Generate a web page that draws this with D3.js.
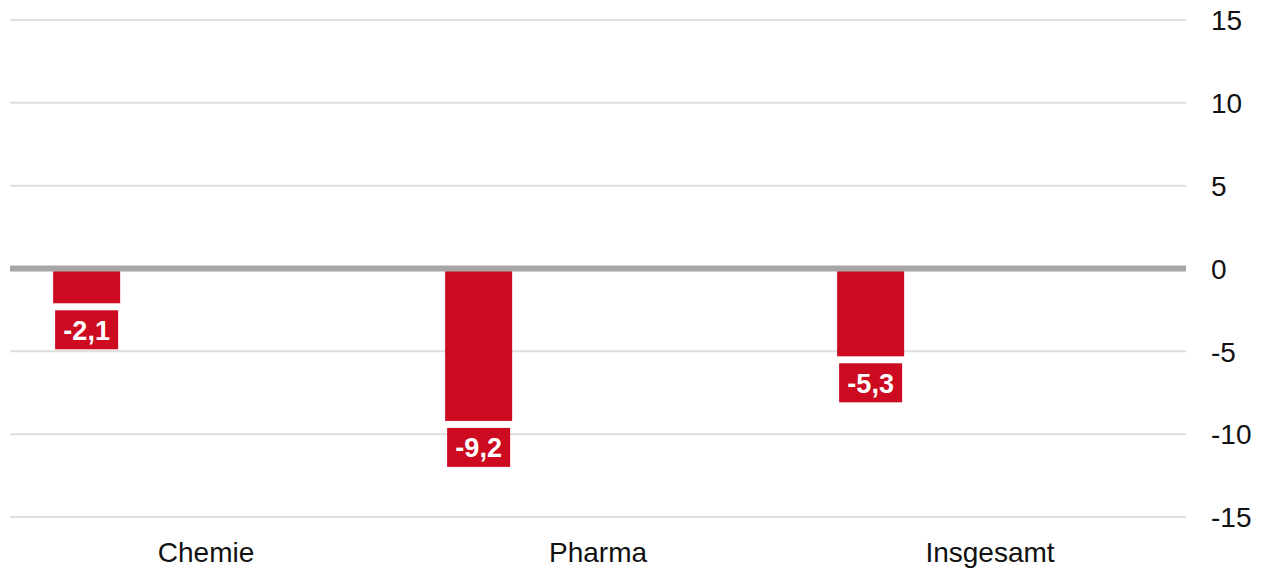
<!DOCTYPE html>
<html>
<head>
<meta charset="utf-8">
<script src="https://cdn.jsdelivr.net/npm/d3@7"></script>
<style>
  html, body { margin: 0; padding: 0; background: #fff; }
  svg { display: block; }
</style>
</head>
<body>
<svg id="chart" width="1266" height="569"></svg>
<script>
const categories = ["Chemie", "Pharma", "Insgesamt"];
const values = [-2.1, -9.2, -5.3];
const valueLabels = ["-2,1", "-9,2", "-5,3"];
const yTicks = [15, 10, 5, 0, -5, -10, -15];
const yTickLabels = ["15", "10", "5", "0", "-5", "-10", "-15"];

const W = 1266, H = 569;
const plotLeft = 10, plotRight = 1186;
const svg = d3.select("#chart");

const x = d3.scaleBand().domain(categories).range([plotLeft, plotRight]).padding(0);
const y = d3.scaleLinear().domain([-15, 15]).range([517, 20]);

// gridlines
svg.append("g").selectAll("line").data(yTicks.filter(d => d !== 0)).join("line")
  .attr("x1", plotLeft).attr("x2", plotRight)
  .attr("y1", d => y(d)).attr("y2", d => y(d))
  .attr("stroke", "#dedede").attr("stroke-width", 2);

// y axis labels
const yAxis = d3.axisRight(y).tickValues(yTicks)
  .tickFormat(d => yTickLabels[yTicks.indexOf(d)]).tickSize(0).tickPadding(0);
const ya = svg.append("g").attr("transform", `translate(1211,0)`).call(yAxis);
ya.select(".domain").remove();
ya.selectAll("text")
  .attr("font-family", "Liberation Sans, Arial, sans-serif")
  .attr("font-size", 28).attr("fill", "#111").attr("text-anchor", "start")
  .attr("dy", "0.35em").attr("x", 0);

// bars
const barOffset = x.bandwidth() * 0.11;
const barW = x.bandwidth() * 0.171;
const data = categories.map((c, i) => ({ c, v: values[i], l: valueLabels[i] }));
svg.append("g").selectAll("rect").data(data).join("rect")
  .attr("x", d => x(d.c) + barOffset)
  .attr("width", barW)
  .attr("y", d => y(Math.max(0, d.v)))
  .attr("height", d => Math.abs(y(d.v) - y(0)))
  .attr("fill", "#cc0a20");

// value label boxes
const boxW = 63, boxH = 39, gap = 7;
const lab = svg.append("g").selectAll("g").data(data).join("g")
  .attr("transform", d => `translate(${x(d.c) + barOffset + barW / 2},${y(d.v) + gap})`);
lab.append("rect")
  .attr("x", -boxW / 2).attr("y", 0).attr("width", boxW).attr("height", boxH)
  .attr("fill", "#cc0a20");
lab.append("text")
  .attr("x", 0).attr("y", boxH / 2).attr("dy", "0.36em")
  .attr("text-anchor", "middle")
  .attr("font-family", "Liberation Sans, Arial, sans-serif")
  .attr("font-weight", "bold").attr("font-size", 27).attr("fill", "#fff")
  .text(d => d.l);

// zero line
svg.append("line")
  .attr("x1", plotLeft).attr("x2", plotRight)
  .attr("y1", y(0)).attr("y2", y(0))
  .attr("stroke", "#a6a6a6").attr("stroke-width", 6);

// category labels
const xAxis = d3.axisBottom(x).tickSize(0).tickPadding(0);
const xa = svg.append("g").attr("transform", `translate(0,562)`).call(xAxis);
xa.select(".domain").remove();
xa.selectAll("text")
  .attr("font-family", "Liberation Sans, Arial, sans-serif")
  .attr("font-size", 28).attr("fill", "#111").attr("dy", 0).attr("y", 0);
</script>
</body>
</html>
